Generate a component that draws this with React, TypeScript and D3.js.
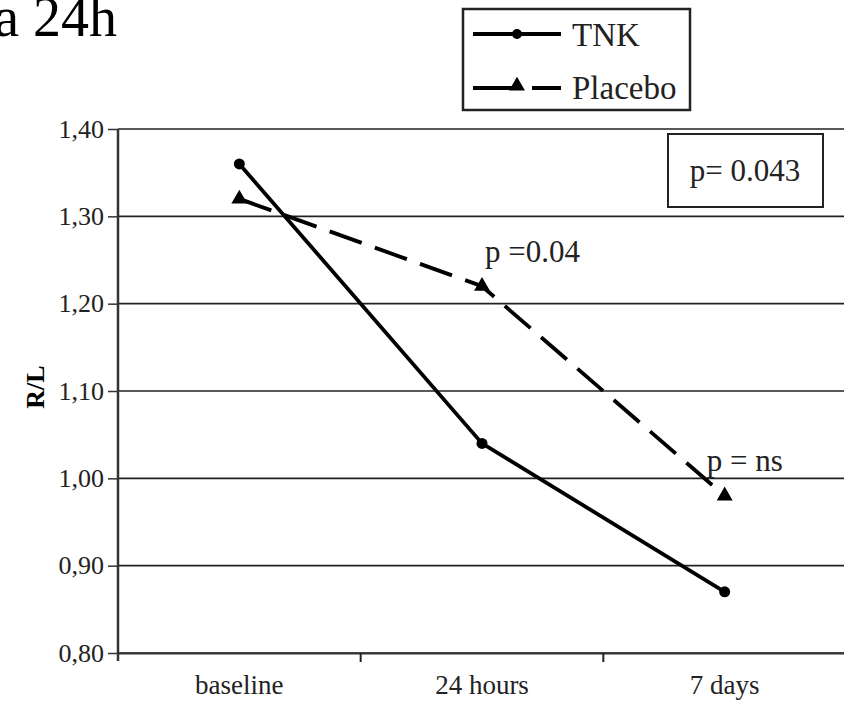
import React, { useRef, useEffect } from "react";
import * as d3 from "d3";

const categories = ["baseline", "24 hours", "7 days"];
const tnkValues = [1.36, 1.04, 0.87];
const placeboValues = [1.32, 1.22, 0.98];
const yTicks = [0.8, 0.9, 1.0, 1.1, 1.2, 1.3, 1.4];
const annotations = [
  { cat: "24 hours", value: 1.22, text: "p =0.04" },
  { cat: "7 days", value: 0.98, text: "p = ns" },
];

const W = 844;
const H = 707;
const plot = { left: 118, right: 846, top: 129, bottom: 653 };
const FONT = "Liberation Serif";
// label offsets for the p annotations (px, from their point)
const annOffset = [{ dx: 3, dy: -24 }, { dx: -18, dy: -25 }];

const App = () => {
  const svgRef = useRef<SVGSVGElement>(null);

  useEffect(() => {
    const svg = d3.select(svgRef.current);
    svg.selectAll("*").remove();

    const x = d3.scaleBand().domain(categories).range([plot.left, plot.right]);
    const y = d3.scaleLinear().domain([0.8, 1.4]).range([plot.bottom, plot.top]);
    const cx = (c: string) => (x(c) as number) + x.bandwidth() / 2;

    svg.append("rect").attr("width", W).attr("height", H).attr("fill", "#fff");

    // title fragment, clipped at the left edge like the source
    svg.append("text")
      .attr("x", 117).attr("y", 36)
      .attr("text-anchor", "end")
      .attr("font-family", FONT).attr("font-size", 56)
      .text("a 24h");

    // gridlines
    svg.append("g").selectAll("line")
      .data(yTicks)
      .join("line")
      .attr("x1", plot.left).attr("x2", plot.right)
      .attr("y1", d => y(d)).attr("y2", d => y(d))
      .attr("stroke", "#222").attr("stroke-width", 1.6);

    // y axis
    const yAxis = svg.append("g")
      .attr("transform", `translate(${plot.left},0)`)
      .call(d3.axisLeft(y).tickValues(yTicks).tickSize(10).tickPadding(4)
        .tickFormat(d => d3.format(".2f")(d as number).replace(".", ",")))
      .attr("font-family", FONT).attr("font-size", 26);
    yAxis.select(".domain").attr("stroke", "#333").attr("stroke-width", 2.5)
      .attr("d", `M0,${plot.top}V${plot.bottom + 8}`);
    yAxis.selectAll(".tick line").attr("stroke", "#333").attr("stroke-width", 1.5);
    yAxis.selectAll("text").attr("fill", "#222");

    // x axis
    const xAxis = svg.append("g")
      .attr("transform", `translate(0,${plot.bottom})`)
      .call(d3.axisBottom(x).tickSize(0).tickPadding(22))
      .attr("font-family", FONT).attr("font-size", 27);
    xAxis.select(".domain").attr("stroke", "#333").attr("stroke-width", 2);
    xAxis.selectAll("text").attr("fill", "#222");
    xAxis.selectAll(".sep")
      .data(categories.slice(1))
      .join("line")
      .attr("x1", d => x(d) as number).attr("x2", d => x(d) as number)
      .attr("y1", 0).attr("y2", 9)
      .attr("stroke", "#222").attr("stroke-width", 2);

    // axis title
    svg.append("text")
      .attr("transform", `translate(44,387) rotate(-90)`)
      .attr("text-anchor", "middle")
      .attr("font-family", FONT).attr("font-size", 26).attr("font-weight", "bold")
      .text("R/L");

    const line = d3.line<number>()
      .x((_, i) => cx(categories[i]))
      .y(d => y(d));

    // placebo (dashed)
    svg.append("path")
      .datum(placeboValues)
      .attr("d", line)
      .attr("fill", "none").attr("stroke", "#000").attr("stroke-width", 3.8)
      .attr("stroke-dasharray", "34,14");
    const tri = d3.symbol().type(d3.symbolTriangle).size(110);
    svg.append("g").selectAll("path")
      .data(placeboValues)
      .join("path")
      .attr("d", tri)
      .attr("transform", (d, i) => `translate(${cx(categories[i])},${y(d)})`)
      .attr("fill", "#000");

    // TNK (solid)
    svg.append("path")
      .datum(tnkValues)
      .attr("d", line)
      .attr("fill", "none").attr("stroke", "#000").attr("stroke-width", 3.8);
    svg.append("g").selectAll("circle")
      .data(tnkValues)
      .join("circle")
      .attr("cx", (_, i) => cx(categories[i]))
      .attr("cy", d => y(d))
      .attr("r", 5.5).attr("fill", "#000");

    // p-value annotations
    svg.append("g").selectAll("text")
      .data(annotations)
      .join("text")
      .attr("x", (d, i) => cx(d.cat) + annOffset[i].dx)
      .attr("y", (d, i) => y(d.value) + annOffset[i].dy)
      .attr("font-family", FONT).attr("font-size", 31).attr("fill", "#222")
      .text(d => d.text);

    // p-value box
    svg.append("rect")
      .attr("x", 668).attr("y", 134).attr("width", 155).attr("height", 73)
      .attr("fill", "#fff").attr("stroke", "#222").attr("stroke-width", 2);
    svg.append("text")
      .attr("x", 745).attr("y", 181)
      .attr("text-anchor", "middle")
      .attr("font-family", FONT).attr("font-size", 31).attr("fill", "#222")
      .text("p= 0.043");

    // legend
    const lg = svg.append("g");
    lg.append("rect")
      .attr("x", 463).attr("y", 9).attr("width", 227).attr("height", 101)
      .attr("fill", "#fff").attr("stroke", "#222").attr("stroke-width", 2.5);
    lg.append("line")
      .attr("x1", 473).attr("x2", 561).attr("y1", 34).attr("y2", 34)
      .attr("stroke", "#000").attr("stroke-width", 4);
    lg.append("circle").attr("cx", 517).attr("cy", 34).attr("r", 5).attr("fill", "#000");
    lg.append("line")
      .attr("x1", 473).attr("x2", 561).attr("y1", 88).attr("y2", 88)
      .attr("stroke", "#000").attr("stroke-width", 4)
      .attr("stroke-dasharray", "44,15,29");
    lg.append("path")
      .attr("d", tri)
      .attr("transform", "translate(517,86)")
      .attr("fill", "#000");
    lg.append("text")
      .attr("x", 572).attr("y", 46)
      .attr("font-family", FONT).attr("font-size", 33).attr("fill", "#222")
      .text("TNK");
    lg.append("text")
      .attr("x", 572).attr("y", 99)
      .attr("font-family", FONT).attr("font-size", 33).attr("fill", "#222")
      .text("Placebo");
  }, []);

  return (
    <svg
      ref={svgRef}
      width={W}
      height={H}
      style={{ position: "absolute", left: 0, top: 0, display: "block" }}
    />
  );
};

export default App;
